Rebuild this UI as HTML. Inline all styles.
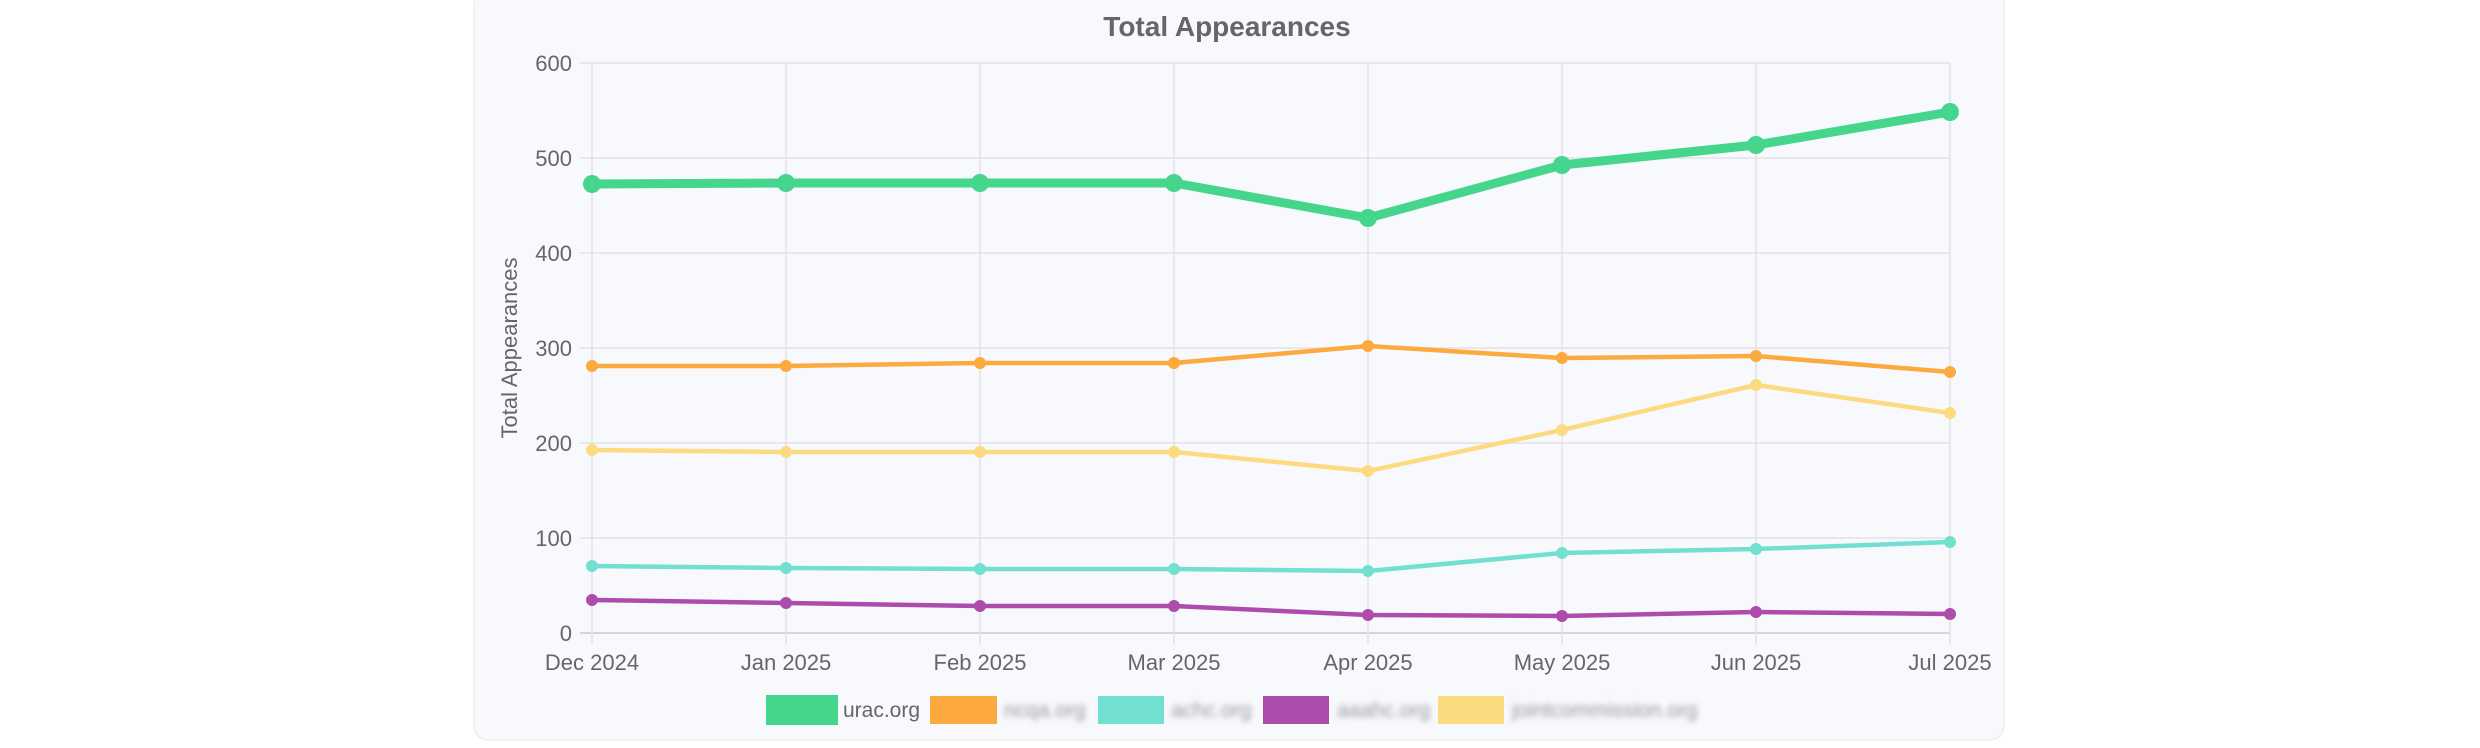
<!DOCTYPE html>
<html><head><meta charset="utf-8"><style>
html,body{margin:0;padding:0;background:#fff;width:2480px;height:748px;overflow:hidden}
svg{display:block;font-family:"Liberation Sans",sans-serif}
</style></head><body>
<svg width="2480" height="748" viewBox="0 0 2480 748">
<defs><filter id="b" x="-20%" y="-50%" width="140%" height="200%"><feGaussianBlur stdDeviation="3"/></filter></defs>
<rect x="474" y="-10" width="1530" height="750" rx="14" fill="#f8f9fd" stroke="#eceef3" stroke-width="1.5"/>
<text x="1227" y="36" text-anchor="middle" font-size="28" font-weight="bold" fill="#666">Total Appearances</text>
<g stroke="#e3e3e6" stroke-width="1.5">
<line x1="580" y1="63" x2="1950" y2="63"/><line x1="580" y1="158" x2="1950" y2="158"/><line x1="580" y1="253" x2="1950" y2="253"/><line x1="580" y1="348" x2="1950" y2="348"/><line x1="580" y1="443" x2="1950" y2="443"/><line x1="580" y1="538" x2="1950" y2="538"/><line x1="580" y1="633" x2="1950" y2="633" stroke="#d6d6da" stroke-width="2"/>
<line x1="592" y1="63" x2="592" y2="645"/><line x1="786" y1="63" x2="786" y2="645"/><line x1="980" y1="63" x2="980" y2="645"/><line x1="1174" y1="63" x2="1174" y2="645"/><line x1="1368" y1="63" x2="1368" y2="645"/><line x1="1562" y1="63" x2="1562" y2="645"/><line x1="1756" y1="63" x2="1756" y2="645"/><line x1="1950" y1="63" x2="1950" y2="645"/>
</g>
<g font-size="22" fill="#666" text-anchor="end">
<text x="572" y="71">600</text><text x="572" y="166">500</text><text x="572" y="261">400</text><text x="572" y="356">300</text><text x="572" y="451">200</text><text x="572" y="546">100</text><text x="572" y="641">0</text>
</g>
<g font-size="22" fill="#666" text-anchor="middle">
<text x="592" y="670">Dec 2024</text><text x="786" y="670">Jan 2025</text><text x="980" y="670">Feb 2025</text><text x="1174" y="670">Mar 2025</text><text x="1368" y="670">Apr 2025</text><text x="1562" y="670">May 2025</text><text x="1756" y="670">Jun 2025</text><text x="1950" y="670">Jul 2025</text>
</g>
<text transform="translate(517,348) rotate(-90)" text-anchor="middle" font-size="22" fill="#666">Total Appearances</text>
<g fill="none" stroke-linejoin="round">
<polyline stroke="#fcdb80" stroke-width="4.5" points="592,450 786,452 980,452 1174,452 1368,471 1562,430 1756,385 1950,413"/>
<polyline stroke="#72e0d0" stroke-width="4.5" points="592,566 786,568 980,569 1174,569 1368,571 1562,553 1756,549 1950,542"/>
<polyline stroke="#ae4cad" stroke-width="4.5" points="592,600 786,603 980,606 1174,606 1368,615 1562,616 1756,612 1950,614"/>
<polyline stroke="#fca93e" stroke-width="4.5" points="592,366 786,366 980,363 1174,363 1368,346 1562,358 1756,356 1950,372"/>
<polyline stroke="#45d58c" stroke-width="9" points="592,184 786,183 980,183 1174,183 1368,218 1562,165 1756,145 1950,112"/>
</g>
<g fill="#fcdb80"><circle cx="592" cy="450" r="6"/><circle cx="786" cy="452" r="6"/><circle cx="980" cy="452" r="6"/><circle cx="1174" cy="452" r="6"/><circle cx="1368" cy="471" r="6"/><circle cx="1562" cy="430" r="6"/><circle cx="1756" cy="385" r="6"/><circle cx="1950" cy="413" r="6"/></g>
<g fill="#72e0d0"><circle cx="592" cy="566" r="6"/><circle cx="786" cy="568" r="6"/><circle cx="980" cy="569" r="6"/><circle cx="1174" cy="569" r="6"/><circle cx="1368" cy="571" r="6"/><circle cx="1562" cy="553" r="6"/><circle cx="1756" cy="549" r="6"/><circle cx="1950" cy="542" r="6"/></g>
<g fill="#ae4cad"><circle cx="592" cy="600" r="6"/><circle cx="786" cy="603" r="6"/><circle cx="980" cy="606" r="6"/><circle cx="1174" cy="606" r="6"/><circle cx="1368" cy="615" r="6"/><circle cx="1562" cy="616" r="6"/><circle cx="1756" cy="612" r="6"/><circle cx="1950" cy="614" r="6"/></g>
<g fill="#fca93e"><circle cx="592" cy="366" r="6"/><circle cx="786" cy="366" r="6"/><circle cx="980" cy="363" r="6"/><circle cx="1174" cy="363" r="6"/><circle cx="1368" cy="346" r="6"/><circle cx="1562" cy="358" r="6"/><circle cx="1756" cy="356" r="6"/><circle cx="1950" cy="372" r="6"/></g>
<g fill="#45d58c"><circle cx="592" cy="184" r="9"/><circle cx="786" cy="183" r="9"/><circle cx="980" cy="183" r="9"/><circle cx="1174" cy="183" r="9"/><circle cx="1368" cy="218" r="9"/><circle cx="1562" cy="165" r="9"/><circle cx="1756" cy="145" r="9"/><circle cx="1950" cy="112" r="9"/></g>
<rect x="766" y="695" width="72" height="30" fill="#45d58c"/>
<text x="843" y="717" font-size="21" fill="#666">urac.org</text>
<rect x="930" y="696" width="67" height="28" fill="#fca93e"/>
<text x="1004" y="717" font-size="21" fill="#999" filter="url(#b)">ncqa.org</text>
<rect x="1098" y="696" width="66" height="28" fill="#72e0d0"/>
<text x="1171" y="717" font-size="21" fill="#999" filter="url(#b)">achc.org</text>
<rect x="1263" y="696" width="66" height="28" fill="#ae4cad"/>
<text x="1337" y="717" font-size="21" fill="#999" filter="url(#b)">aaahc.org</text>
<rect x="1438" y="696" width="66" height="28" fill="#fcdb80"/>
<text x="1512" y="717" font-size="21" fill="#999" filter="url(#b)">jointcommission.org</text>
</svg>
</body></html>
